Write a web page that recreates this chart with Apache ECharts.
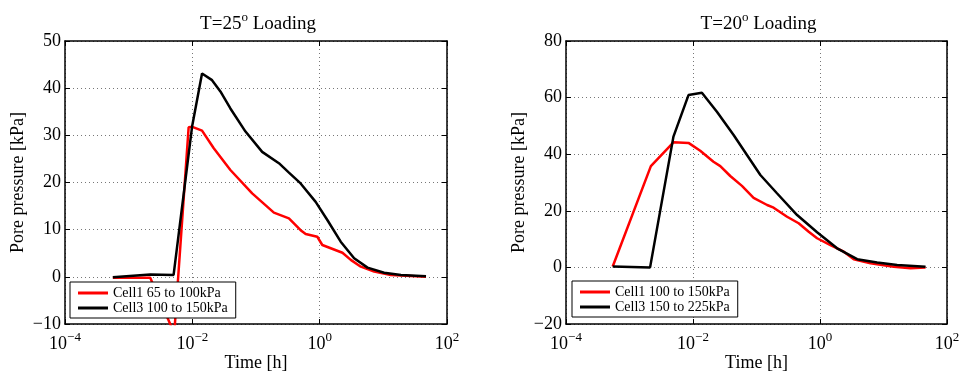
<!DOCTYPE html>
<html>
<head>
<meta charset="utf-8">
<script src="https://cdn.jsdelivr.net/npm/echarts@6/dist/echarts.min.js"></script>
<style>
html,body{margin:0;padding:0;background:#fff;}
#chart{width:961px;height:373px;}
</style>
</head>
<body>
<div id="chart"></div>
<script>
// ---- Data (time in hours, pore pressure in kPa) ----
const titles = ['T=25{sup|o} Loading', 'T=20{sup|o} Loading'];
const seriesNames = [
  ['Cell1 65 to 100kPa', 'Cell3 100 to 150kPa'],
  ['Cell1 100 to 150kPa', 'Cell3 150 to 225kPa']
];
const xTicks = [1e-4, 1e-2, 1, 1e2];
const yRangeLeft = [-10, 50, 10];
const yRangeRight = [-20, 80, 20];

const leftCell1 = [
  [5.64e-4, -0.2], [2.18e-3, -0.2], [5.2e-3, -12], [8.75e-3, 31.7], [1.0e-2, 31.8],
  [1.42e-2, 31.0], [2.17e-2, 27.25], [3.96e-2, 22.65], [8.71e-2, 17.7], [0.191, 13.6],
  [0.329, 12.4], [0.502, 9.9], [0.603, 9.1], [0.918, 8.5], [1.10, 6.75],
  [2.28, 5.1], [3.08, 3.6], [4.43, 2.15], [7.18, 1.1], [13.1, 0.4], [46.8, 0.0]
];
const leftCell3 = [
  [5.64e-4, -0.1], [2.18e-3, 0.5], [5.08e-3, 0.4], [9.9e-3, 31.8], [1.42e-2, 43.1],
  [2.04e-2, 41.7], [2.76e-2, 39.3], [3.96e-2, 35.7], [6.84e-2, 30.8], [0.125, 26.5],
  [0.229, 24.1], [0.329, 22.1], [0.502, 19.8], [0.865, 15.9], [1.32, 12.05],
  [2.14, 7.45], [3.48, 3.93], [5.64, 1.95], [10.3, 0.88], [18.9, 0.4], [46.8, 0.1]
];
const rightCell1 = [
  [5.44e-4, 0.3], [2.17e-3, 35.8], [4.92e-3, 44.2], [8.49e-3, 44.0], [1.30e-2, 41.2],
  [2.10e-2, 37.35], [2.69e-2, 35.8], [3.86e-2, 32.3], [5.90e-2, 28.8], [9.0e-2, 24.6],
  [0.147, 22.05], [0.186, 21.1], [0.303, 17.9], [0.461, 15.6], [0.664, 12.6],
  [0.90, 10.3], [1.46, 7.9], [2.37, 5.55], [3.40, 2.9], [6.24, 1.45],
  [14.5, 0.25], [26.7, -0.3], [45.9, 0.0]
];
const rightCell3 = [
  [5.44e-4, 0.3], [2.11e-3, 0.0], [4.92e-3, 46.2], [8.49e-3, 60.9], [1.38e-2, 61.7],
  [2.38e-2, 55.0], [4.36e-2, 46.8], [7.08e-2, 39.7], [0.115, 32.65], [0.21, 26.2],
  [0.436, 18.5], [0.90, 12.4], [1.86, 6.75], [3.85, 2.9], [7.94, 1.7],
  [16.4, 0.85], [45.9, 0.25]
];

// ---- Styling ----
const FONT = 'Liberation Serif, Times New Roman, serif';
const grids = [
  {left: 65, top: 41, width: 382, height: 283, outerBoundsMode: 'none', containLabel: false},
  {left: 566, top: 41, width: 381, height: 283, outerBoundsMode: 'none', containLabel: false}
];
const dotted = {color: '#777', width: 1, type: [1, 3]};
const axisLineStyle = {onZero: false, lineStyle: {color: '#000', width: 1.5}};

function xLabel(v) {
  const e = Math.round(Math.log10(v));
  return '10{sup|' + String(e).replace('-', '\u2212') + '}';
}

const xAxes = [], yAxes = [];
[0, 1].forEach(g => {
  const yr = g === 0 ? yRangeLeft : yRangeRight;
  xAxes.push({
    gridIndex: g, type: 'log', logBase: 100, min: xTicks[0], max: xTicks[xTicks.length - 1],
    position: 'bottom',
    axisLine: axisLineStyle,
    axisTick: {inside: true, length: 5, lineStyle: {color: '#000'}},
    minorTick: {show: false},
    axisLabel: {
      formatter: xLabel, color: '#000', fontFamily: FONT, fontSize: 18, margin: 7,
      lineHeight: 26, verticalAlign: 'top',
      rich: {sup: {fontSize: 13, fontFamily: FONT, color: '#000', verticalAlign: 'top', lineHeight: 13}}
    },
    splitLine: {show: true, lineStyle: dotted},
    name: 'Time [h]', nameLocation: 'middle', nameGap: 30, nameMoveOverlap: false,
    nameTextStyle: {color: '#000', fontFamily: FONT, fontSize: 18, verticalAlign: 'top'}
  });
  xAxes.push({
    gridIndex: g, type: 'log', logBase: 100, min: xTicks[0], max: xTicks[xTicks.length - 1],
    position: 'top',
    axisLine: axisLineStyle,
    axisTick: {inside: true, length: 5, lineStyle: {color: '#000'}},
    axisLabel: {show: false}, splitLine: {show: false}
  });
  yAxes.push({
    gridIndex: g, type: 'value', min: yr[0], max: yr[1], interval: yr[2],
    position: 'left',
    axisLine: {show: true, onZero: false, lineStyle: {color: '#000', width: 1.5}},
    axisTick: {show: true, inside: true, length: 5, lineStyle: {color: '#000'}},
    axisLabel: {color: '#000', fontFamily: FONT, fontSize: 18, margin: 4,
      formatter: v => String(v).replace('-', '\u2212')},
    splitLine: {show: true, lineStyle: dotted},
    name: 'Pore pressure [kPa]', nameLocation: 'middle', nameGap: 38, nameRotate: 90,
    nameMoveOverlap: false,
    nameTextStyle: {color: '#000', fontFamily: FONT, fontSize: 18}
  });
  yAxes.push({
    gridIndex: g, type: 'value', min: yr[0], max: yr[1], interval: yr[2],
    position: 'right',
    axisLine: {show: true, onZero: false, lineStyle: {color: '#000', width: 1.5}},
    axisTick: {show: true, inside: true, length: 5, lineStyle: {color: '#000'}},
    axisLabel: {show: false}, splitLine: {show: false}
  });
});

function lineSeries(name, data, color, g) {
  return {
    name, type: 'line', data, xAxisIndex: g * 2, yAxisIndex: g * 2,
    symbol: 'none', showSymbol: false, clip: true, animation: false,
    lineStyle: {color, width: 2.5}, itemStyle: {color}
  };
}

const series = [
  lineSeries(seriesNames[0][0], leftCell1, '#ff0000', 0),
  lineSeries(seriesNames[0][1], leftCell3, '#000000', 0),
  lineSeries(seriesNames[1][0], rightCell1, '#ff0000', 1),
  lineSeries(seriesNames[1][1], rightCell3, '#000000', 1)
];

function legend(g, left, top) {
  return {
    data: seriesNames[g], left, top, orient: 'vertical',
    backgroundColor: '#fff', borderColor: '#000', borderWidth: 1,
    padding: [4, 8, 3, 8], itemGap: 1, itemWidth: 30, itemHeight: 3,
    icon: 'rect',
    textStyle: {color: '#000', fontFamily: FONT, fontSize: 14, lineHeight: 14},
    selectedMode: false
  };
}

const option = {
  animation: false,
  backgroundColor: '#fff',
  title: titles.map((t, i) => ({
    text: t, left: grids[i].left + grids[i].width / 2 - 3, top: 6, textAlign: 'center',
    textStyle: {color: '#000', fontFamily: FONT, fontSize: 19, fontWeight: 'normal', lineHeight: 26,
      rich: {sup: {fontSize: 13, fontFamily: FONT, color: '#000', verticalAlign: 'top', lineHeight: 13}}}
  })),
  grid: grids,
  xAxis: xAxes,
  yAxis: yAxes,
  legend: [legend(0, 70, 282), legend(1, 572, 281)],
  series
};

const chart = echarts.init(document.getElementById('chart'), null, {renderer: 'canvas'});
chart.setOption(option);
</script>
</body>
</html>
